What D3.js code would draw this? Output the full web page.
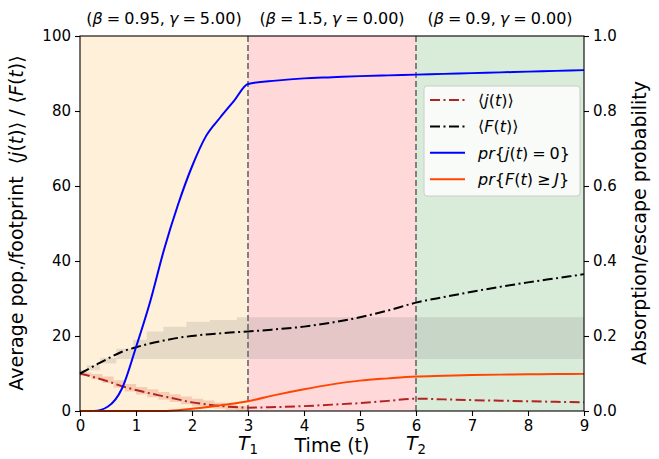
<!DOCTYPE html>
<html><head><meta charset="utf-8">
<script src="https://cdn.jsdelivr.net/npm/d3@7"></script>
<style>
html,body{margin:0;padding:0;background:#fff;}
svg{display:block;font-family:"DejaVu Sans",sans-serif;}
</style></head>
<body><svg id="chart" width="659" height="459"></svg>
<script>
// ---------- data ----------
const timePoints = [0,0.25,0.5,0.75,1,1.25,1.5,1.75,2,2.25,2.5,2.75,3,3.5,4,4.5,5,5.5,6,6.5,7,7.5,8,8.5,9];
const meanJ = [10,9.0,7.9,6.6,5.6,4.7,3.9,3.1,2.3,1.8,1.35,1.05,0.9,1.05,1.3,1.7,2.1,2.7,3.3,3.1,2.9,2.75,2.6,2.45,2.3];
const meanF = [10,12.0,14.0,15.8,17.0,18.0,18.8,19.5,20.0,20.4,20.7,21.0,21.2,21.8,22.5,23.6,25.0,26.8,28.9,30.4,31.8,33.1,34.3,35.4,36.5];
const probAbsorb = [0,0,0.012,0.06,0.17,0.29,0.43,0.55,0.652,0.733,0.782,0.827,0.872,0.881,0.887,0.890,0.893,0.895,0.897,0.899,0.901,0.903,0.905,0.907,0.909];
const probEscape = [0,0,0,0,0,0,0,0.002,0.006,0.01,0.015,0.02,0.026,0.043,0.058,0.071,0.081,0.087,0.092,0.094,0.096,0.097,0.098,0.0985,0.099];

const bandFTimes = [0,0.12,0.36,0.65,0.95,1.19,1.49,1.9,2.32,2.8,9];
const bandFLow   = [9.5,10.9,12.7,13.9,13.9,13.9,13.9,13.9,13.9,13.9,13.9];
const bandFHigh  = [11,12.2,14.2,16.6,19.0,21.2,22.5,23.8,24.3,25,25];

const bandJTimes = [0,0.2,0.4,0.6,0.8,1.0,1.2,1.4,1.6,1.8,2.0,2.2,2.4,2.6,2.8,3.0];
const bandJLow   = [9.4,8.5,7.5,6.2,5.2,4.4,3.7,3.0,2.4,1.8,1.3,0.9,0.6,0.3,0.1,0];
const bandJHigh  = [10.3,9.9,9.2,8.2,7.2,6.4,5.8,5.1,4.5,3.9,3.3,2.8,2.3,1.8,1.4,1.0];

const phaseStart = [0,3,6];
const phaseEnd = [3,6,9];
const phaseBeta = ["0.95","1.5","0.9"];
const phaseGamma = ["5.00","0.00","0.00"];
const switchTimes = [3,6];
const switchLabels = ["1","2"];

const xTicks = [0,1,2,3,4,5,6,7,8,9];
const yLeftTicks = [0,20,40,60,80,100];
const yRightTicks = [0,0.2,0.4,0.6,0.8,1.0];

// ---------- layout ----------
const svg = d3.select("#chart");
const L = 80, R = 584, T = 36, B = 411;
const x = d3.scaleLinear().domain([0,9]).range([L,R]);
const yL = d3.scaleLinear().domain([0,100]).range([B,T]);
const yR = d3.scaleLinear().domain([0,1]).range([B,T]);

const phaseColors = ["rgb(255,241,217)","rgb(255,217,218)","rgb(217,235,217)"];
phaseStart.forEach((s,i)=>{
  svg.append("rect").attr("x",x(s)).attr("y",T).attr("width",x(phaseEnd[i])-x(s)).attr("height",B-T)
    .attr("fill",phaseColors[i]);
});

// bands
const areaF = d3.area().curve(d3.curveStepAfter).x((d,i)=>x(bandFTimes[i])).y0((d,i)=>yL(bandFLow[i])).y1((d,i)=>yL(bandFHigh[i]));
svg.append("path").datum(bandFTimes).attr("d",areaF).attr("fill","#808080").attr("fill-opacity",0.2);
const areaJ = d3.area().curve(d3.curveStepAfter).x((d,i)=>x(bandJTimes[i])).y0((d,i)=>yL(bandJLow[i])).y1((d,i)=>yL(bandJHigh[i]));
svg.append("path").datum(bandJTimes).attr("d",areaJ).attr("fill","#e9967a").attr("fill-opacity",0.4);

// switch lines
switchTimes.forEach(t=>{
  svg.append("line").attr("x1",x(t)).attr("x2",x(t)).attr("y1",T).attr("y2",B)
    .attr("stroke","#808080").attr("stroke-width",2).attr("stroke-dasharray","6,3");
});

// lines
function drawLine(vals, scale, color, dash){
  const ln = d3.line().curve(d3.curveMonotoneX).x((d,i)=>x(timePoints[i])).y(d=>scale(d));
  const p = svg.append("path").datum(vals).attr("d",ln).attr("fill","none").attr("stroke",color).attr("stroke-width",2);
  if(dash) p.attr("stroke-dasharray",dash);
}
drawLine(meanJ, yL, "#b22222", "10,3.5,2,3.5");
drawLine(meanF, yL, "#000000", "10,3.5,2,3.5");
drawLine(probAbsorb, yR, "#0000ff", null);
drawLine(probEscape, yR, "#ff4500", null);

// frame
svg.append("rect").attr("x",L).attr("y",T).attr("width",R-L).attr("height",B-T).attr("fill","none").attr("stroke","#000").attr("stroke-width",1.1);

// axes
const fs = "15px";
const ax = svg.append("g").attr("transform",`translate(0,${B})`).call(d3.axisBottom(x).tickValues(xTicks).tickFormat(d3.format("d")).tickSize(5).tickPadding(4));
const ayl = svg.append("g").attr("transform",`translate(${L},0)`).call(d3.axisLeft(yL).tickValues(yLeftTicks).tickFormat(d3.format("d")).tickSize(5).tickPadding(4));
const ayr = svg.append("g").attr("transform",`translate(${R},0)`).call(d3.axisRight(yR).tickValues(yRightTicks).tickFormat(d3.format(".1f")).tickSize(5).tickPadding(4));
[ax,ayl,ayr].forEach(g=>{
  g.select(".domain").remove();
  g.selectAll(".tick line").attr("stroke","#000").attr("stroke-width",1.1);
  g.selectAll(".tick text").attr("fill","#000").style("font-size",fs).style("font-family","DejaVu Sans");
});

// rich text helper
function rich(sel, parts){
  parts.forEach(p=>{
    const ts = sel.append("tspan").text(p[0]);
    if(p[1]==="i") ts.style("font-style","italic");
    if(p[1]==="sub") ts.attr("font-size","0.7em").attr("dy","0.3em");
  });
  return sel;
}
const sp = "\u2005"; // narrow math space

// axis labels
rich(svg.append("text").attr("transform",`translate(23,223) rotate(-90)`).attr("text-anchor","middle").style("font-size","19px"),
  [["Average pop./footprint\u00a0\u00a0⟨"],["j","i"],["("],["t","i"],[")⟩ / ⟨"],["F","i"],["("],["t","i"],[")⟩"]]);
svg.append("text").attr("transform",`translate(640,223) rotate(-90)`).attr("text-anchor","middle").attr("dominant-baseline","middle").style("font-size","19px")
  .text("Absorption/escape probability");
svg.append("text").attr("x",332).attr("y",452).attr("text-anchor","middle").style("font-size","19px").text("Time (t)");

switchTimes.forEach((t,i)=>{
  rich(svg.append("text").attr("x",x(t)).attr("y",450).attr("text-anchor","middle").style("font-size","19px"),
    [["T","i"],[switchLabels[i],"sub"]]);
});

// phase labels
phaseStart.forEach((s,i)=>{
  rich(svg.append("text").attr("x",x((s+phaseEnd[i])/2)).attr("y",24).attr("text-anchor","middle").style("font-size","16px"),
    [["("],["β","i"],[sp+"="+sp+phaseBeta[i]+","+sp],["γ","i"],[sp+"="+sp+phaseGamma[i]+")"]]);
});

// legend
const lg = svg.append("g");
lg.append("rect").attr("x",424).attr("y",86).attr("width",156).attr("height",110).attr("rx",3)
  .attr("fill","#fff").attr("fill-opacity",0.8).attr("stroke","#cccccc");
const legendItems = [
  {color:"#b22222",dash:"10,3.5,2,3.5",parts:[["⟨"],["j","i"],["("],["t","i"],[")⟩"]]},
  {color:"#000000",dash:"10,3.5,2,3.5",parts:[["⟨"],["F","i"],["("],["t","i"],[")⟩"]]},
  {color:"#0000ff",dash:null,parts:[["pr","i"],["{"],["j","i"],["("],["t","i"],[")"+sp+"="+sp+"0}"]]},
  {color:"#ff4500",dash:null,parts:[["pr","i"],["{"],["F","i"],["("],["t","i"],[")"+sp+"≥"+sp],["J","i"],["}"]]}
];
legendItems.forEach((it,i)=>{
  const yy = 100 + i*26.4;
  const l = lg.append("line").attr("x1",430).attr("x2",465).attr("y1",yy).attr("y2",yy).attr("stroke",it.color).attr("stroke-width",2);
  if(it.dash) l.attr("stroke-dasharray",it.dash);
  rich(lg.append("text").attr("x",478).attr("y",yy+6).style("font-size","16px"), it.parts);
});
</script></body></html>
